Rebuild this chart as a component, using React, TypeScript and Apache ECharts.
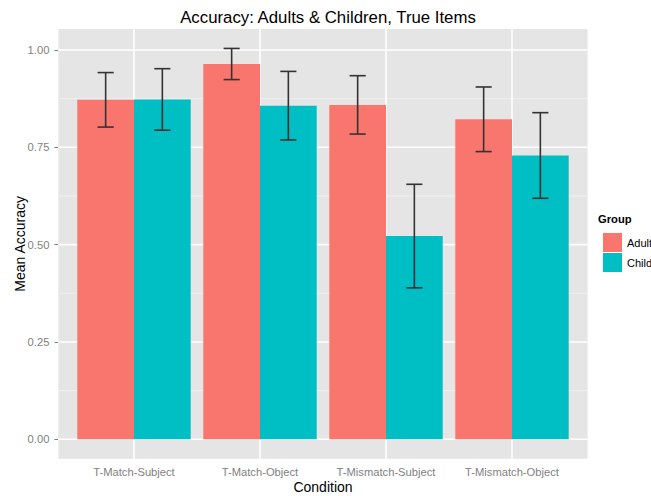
import React, { useEffect, useRef } from "react";
import * as echarts from "echarts";

// Conditions on the x axis
const conditions = ["T-Match-Subject", "T-Match-Object", "T-Mismatch-Subject", "T-Mismatch-Object"];

// Mean accuracy per condition
const adultMeans = [0.872, 0.964, 0.859, 0.822];
const childMeans = [0.873, 0.857, 0.522, 0.729];

// Half-length of each error bar
const adultErrors = [0.07, 0.04, 0.075, 0.083];
const childErrors = [0.079, 0.088, 0.133, 0.11];

// Axis breaks
const majorBreaks = [0, 0.25, 0.5, 0.75, 1];
const minorBreaks = [0.125, 0.375, 0.625, 0.875];

const ADULT_COLOR = "#F8766D";
const CHILD_COLOR = "#00BFC4";
const FONT = "'Liberation Sans', Arial, Helvetica, sans-serif";

// Panel padding beyond the category bands (ggplot-style 0.6 expansion vs. ECharts' 0.5)
const EXTRA_PAD = 0.1;
const DODGE = 0.225;

function errorRows(means: number[], errs: number[]) {
  return means.map((m, i) => [i, m - errs[i], m + errs[i]]);
}

function makeErrorSeries(name: string, means: number[], errs: number[], offset: number) {
  return {
    type: "custom",
    name,
    z: 4,
    clip: false,
    encode: { x: 0, y: [1, 2] },
    data: errorRows(means, errs),
    renderItem: (_params: any, api: any) => {
      const cat = api.value(0);
      const bw = api.size([1, 0])[0];
      const cx = api.coord([cat, 0])[0] + offset * bw;
      const yLow = api.coord([cat, api.value(1)])[1];
      const yHigh = api.coord([cat, api.value(2)])[1];
      const half = 0.064 * bw;
      const style = { stroke: "#333333", lineWidth: 1.6 };
      return {
        type: "group",
        children: [
          { type: "line", shape: { x1: cx, y1: yLow, x2: cx, y2: yHigh }, style },
          { type: "line", shape: { x1: cx - half, y1: yHigh, x2: cx + half, y2: yHigh }, style },
          { type: "line", shape: { x1: cx - half, y1: yLow, x2: cx + half, y2: yLow }, style },
        ],
      };
    },
  };
}

export default function App() {
  const ref = useRef<HTMLDivElement>(null);

  useEffect(() => {
    document.body.style.margin = "0";
    if (!ref.current) return;
    const chart = echarts.init(ref.current, null, { renderer: "svg" });

    const panelSeries = {
      type: "custom",
      name: "panel",
      z: 1,
      silent: true,
      clip: false,
      data: [[0, 0]],
      renderItem: (params: any, api: any) => {
        const cs = params.coordSys;
        const bw = api.size([1, 0])[0];
        const left = cs.x - EXTRA_PAD * bw;
        const right = cs.x + cs.width + EXTRA_PAD * bw;
        const children: any[] = [
          {
            type: "rect",
            shape: { x: left, y: cs.y, width: right - left, height: cs.height },
            style: { fill: "#E5E5E5" },
          },
        ];
        minorBreaks.forEach((v) => {
          const y = api.coord([0, v])[1];
          children.push({
            type: "line",
            shape: { x1: left, y1: y, x2: right, y2: y },
            style: { stroke: "#F2F2F2", lineWidth: 0.8 },
          });
        });
        majorBreaks.forEach((v) => {
          const y = api.coord([0, v])[1];
          children.push({
            type: "line",
            shape: { x1: left, y1: y, x2: right, y2: y },
            style: { stroke: "#FFFFFF", lineWidth: 1.6 },
          });
        });
        conditions.forEach((_c, i) => {
          const x = api.coord([i, 0])[0];
          children.push({
            type: "line",
            shape: { x1: x, y1: cs.y, x2: x, y2: cs.y + cs.height },
            style: { stroke: "#FFFFFF", lineWidth: 1.6 },
          });
        });
        return { type: "group", children };
      },
    };

    chart.setOption({
      animation: false,
      textStyle: { fontFamily: FONT },
      title: {
        text: "Accuracy: Adults & Children, True Items",
        left: 323,
        top: 4,
        textAlign: "center",
        textStyle: { fontFamily: FONT, fontSize: 16.8, fontWeight: "normal", color: "#000000" },
      },
      legend: {
        data: ["Adult", "Child"],
        orient: "vertical",
        left: 598,
        top: 228,
        itemWidth: 19,
        itemHeight: 19,
        itemGap: 1,
        icon: "rect",
        selectedMode: false,
        textStyle: { fontFamily: FONT, fontSize: 11, color: "#000000" },
      },
      graphic: [
        {
          type: "text",
          left: 598,
          top: 213,
          style: { text: "Group", fontFamily: FONT, fontSize: 11.2, fontWeight: "bold", fill: "#000000" },
        },
      ],
      grid: {
        left: 71,
        right: 76,
        top: 28.9,
        bottom: 37.2,
        containLabel: false,
        outerBoundsMode: "none",
      },
      xAxis: {
        type: "category",
        data: conditions,
        boundaryGap: true,
        axisLine: { show: false },
        axisTick: { show: true, alignWithLabel: true, length: 4, lineStyle: { color: "#7F7F7F" } },
        axisLabel: { interval: 0, color: "#7F7F7F", fontSize: 11.2, fontFamily: FONT, margin: 8 },
        splitLine: { show: false },
        name: "Condition",
        nameLocation: "middle",
        nameGap: 21,
        nameMoveOverlap: false,
        nameTextStyle: { color: "#000000", fontSize: 14, fontFamily: FONT, verticalAlign: "top" },
      },
      yAxis: {
        type: "value",
        min: -0.0502,
        max: 1.0542,
        offset: 12.6,
        axisLine: { show: false },
        axisTick: {
          show: true,
          length: 4,
          customValues: majorBreaks,
          lineStyle: { color: "#7F7F7F" },
        },
        axisLabel: {
          customValues: majorBreaks,
          color: "#7F7F7F",
          fontSize: 11.2,
          fontFamily: FONT,
          margin: 9,
          formatter: (v: number) => v.toFixed(2),
        },
        splitLine: { show: false },
        name: "Mean Accuracy",
        nameLocation: "middle",
        nameGap: 31,
        nameMoveOverlap: false,
        nameTextStyle: { color: "#000000", fontSize: 14, fontFamily: FONT },
      },
      series: [
        panelSeries,
        {
          type: "bar",
          name: "Adult",
          z: 2,
          data: adultMeans,
          barGap: "0%",
          barCategoryGap: "10%",
          itemStyle: { color: ADULT_COLOR },
        },
        {
          type: "bar",
          name: "Child",
          z: 2,
          data: childMeans,
          barGap: "0%",
          barCategoryGap: "10%",
          itemStyle: { color: CHILD_COLOR },
        },
        makeErrorSeries("Adult error", adultMeans, adultErrors, -DODGE),
        makeErrorSeries("Child error", childMeans, childErrors, DODGE),
      ],
    });

    return () => chart.dispose();
  }, []);

  return <div ref={ref} style={{ width: 651, height: 496 }} />;
}
